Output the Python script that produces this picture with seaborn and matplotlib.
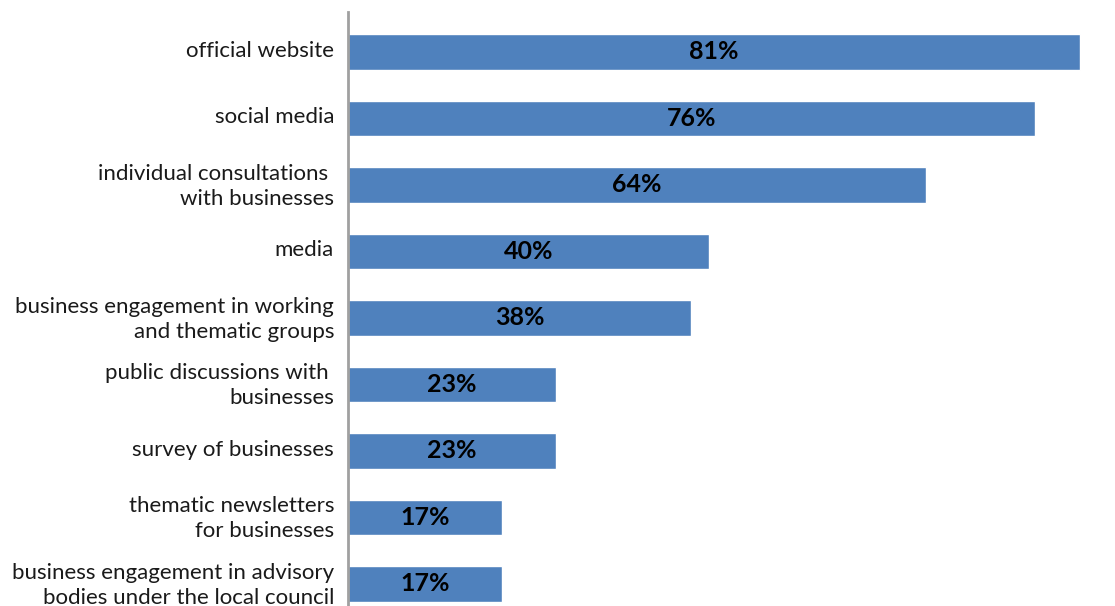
import matplotlib
matplotlib.use("Agg")
import matplotlib.pyplot as plt
import matplotlib.transforms as mtransforms
import seaborn as sns
import pandas as pd

# Channels used to engage businesses, share of respondents (%)
channels = [
    "official website",
    "social media",
    "individual consultations \nwith businesses",
    "media",
    "business engagement in working\nand thematic groups",
    "public discussions with \nbusinesses",
    "survey of businesses",
    "thematic newsletters\nfor businesses",
    "business engagement in advisory\nbodies under the local council",
]
shares = [81, 76, 64, 40, 38, 23, 23, 17, 17]

sns.set_theme(style="white")
plt.rcParams["font.family"] = ["Lato", "DejaVu Sans"]

df = pd.DataFrame({"channel": channels, "share": shares})

W, H = 1115, 606
fig = plt.figure(figsize=(W / 100, H / 100), dpi=100)
left_px, top_px = 348, 12
ax = fig.add_axes([left_px / W, 0, 1 - left_px / W, (H - top_px) / H])

sns.barplot(data=df, x="share", y="channel", orient="h", color="#4F81BD",
            saturation=1, width=0.54, ax=ax)

px_per_unit = (1080 - left_px) / 81
ax.set_xlim(0, (W - left_px) / px_per_unit)
ax.set_ylim(8.331, -0.6015)

for container in ax.containers:
    ax.bar_label(container, labels=[f"{v}%" for v in shares], label_type="center",
                 fontsize=18, fontweight="bold", color="black")

ax.set_xlabel("")
ax.set_ylabel("")
ax.set_xticks([])
ax.tick_params(axis="y", length=0, pad=10)
lift = mtransforms.ScaledTranslation(0, 3 / 100, fig.dpi_scale_trans)
for lbl in ax.get_yticklabels():
    lbl.set_fontsize(16)
    lbl.set_color("#1a1a1a")
    lbl.set_linespacing(1.3)
    lbl.set_transform(lbl.get_transform() + lift)

for side in ["top", "right", "bottom"]:
    ax.spines[side].set_visible(False)
ax.spines["left"].set_color("#a0a0a0")
ax.spines["left"].set_linewidth(2)

fig.savefig("out.png", dpi=100)
